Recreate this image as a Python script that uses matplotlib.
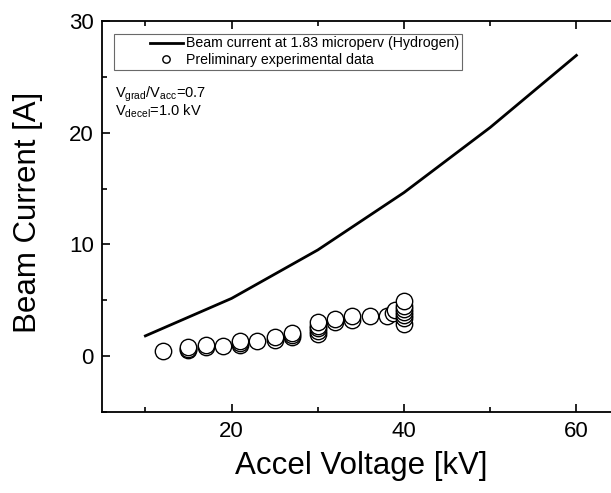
import numpy as np
import matplotlib
matplotlib.use('Agg')
import matplotlib.pyplot as plt
from matplotlib.ticker import MultipleLocator
from matplotlib.legend_handler import HandlerLine2D
from matplotlib.lines import Line2D

plt.rcParams['font.family'] = ['Liberation Sans', 'DejaVu Sans']
plt.rcParams['mathtext.fontset'] = 'custom'
plt.rcParams['mathtext.rm'] = 'Liberation Sans'
plt.rcParams['mathtext.it'] = 'Liberation Sans'

# Child-Langmuir curve, 1.83 microperv (Hydrogen)
voltage_kv = [10, 20, 30, 40, 50, 60]
beam_current = [1.83, 5.18, 9.51, 14.64, 20.46, 26.90]

# preliminary experimental data
exp_v = [12, 15, 15, 15, 17, 17, 19, 21, 21, 21, 23, 25, 25, 27, 27, 27,
         30, 30, 30, 30, 30, 32, 32, 34, 34, 36, 38, 38.7, 39,
         40, 40, 40, 40, 40, 40, 40]
exp_i = [0.5, 0.55, 0.7, 0.8, 0.85, 1.0, 0.95, 1.05, 1.2, 1.4, 1.35, 1.5, 1.75, 1.75, 1.9, 2.05,
         2.0, 2.3, 2.5, 2.75, 3.05, 3.1, 3.3, 3.25, 3.65, 3.65, 3.65, 3.9, 4.1,
         2.9, 3.4, 3.7, 4.0, 4.2, 4.5, 4.95]


class OffsetHandle(HandlerLine2D):
    # line on the right half of the handle box, marker left of its centre
    def get_xdata(self, legend, xdescent, ydescent, width, height, fontsize):
        xdata = [-xdescent + 0.5 * width, -xdescent + width]
        xmark = [-xdescent + 0.6 * width]
        return xdata, xmark


fig = plt.figure(figsize=(6.11, 4.93), dpi=100)
ax = fig.add_axes([0.1674, 0.1637, 0.8465, 0.7943])

ax.plot(voltage_kv, beam_current, color='black', lw=2.0,
        label='Beam current at 1.83 microperv (Hydrogen)')
ax.plot(exp_v, exp_i, ls='none', marker='o', ms=11.8, mfc='white', mec='black',
        mew=1.0, label='Preliminary experimental data')

ax.set_xlim(5, 65)
ax.set_ylim(-5, 30)
ax.xaxis.set_major_locator(MultipleLocator(20))
ax.xaxis.set_minor_locator(MultipleLocator(10))
ax.yaxis.set_major_locator(MultipleLocator(10))
ax.yaxis.set_minor_locator(MultipleLocator(5))
ax.tick_params(which='both', direction='in', top=True, right=True, width=1.2)
ax.tick_params(which='major', length=6, labelsize=16, pad=6)
ax.tick_params(which='minor', length=3.5)
for s in ax.spines.values():
    s.set_linewidth(1.3)

ax.set_xlabel('Accel Voltage [kV]', fontsize=22.5, labelpad=7)
ax.set_ylabel('Beam Current [A]', fontsize=22.5)
ax.yaxis.set_label_coords(-0.114, 0.51)

leg = ax.legend(loc='upper left', bbox_to_anchor=(0.022, 0.967), fontsize=10.2,
                frameon=True, fancybox=False, edgecolor='#444444',
                borderpad=0.2, labelspacing=0.2, handlelength=4.7,
                handletextpad=0.2, borderaxespad=0, markerscale=0.45,
                handler_map={Line2D: OffsetHandle()})
leg.get_frame().set_linewidth(0.8)

ax.text(0.024, 0.803, r'V$_{\mathrm{grad}}$/V$_{\mathrm{acc}}$=0.7', transform=ax.transAxes,
        fontsize=10.5, va='baseline')
ax.text(0.024, 0.757, r'V$_{\mathrm{decel}}$=1.0 kV', transform=ax.transAxes,
        fontsize=10.5, va='baseline')

fig.savefig('out.png', dpi=100)
